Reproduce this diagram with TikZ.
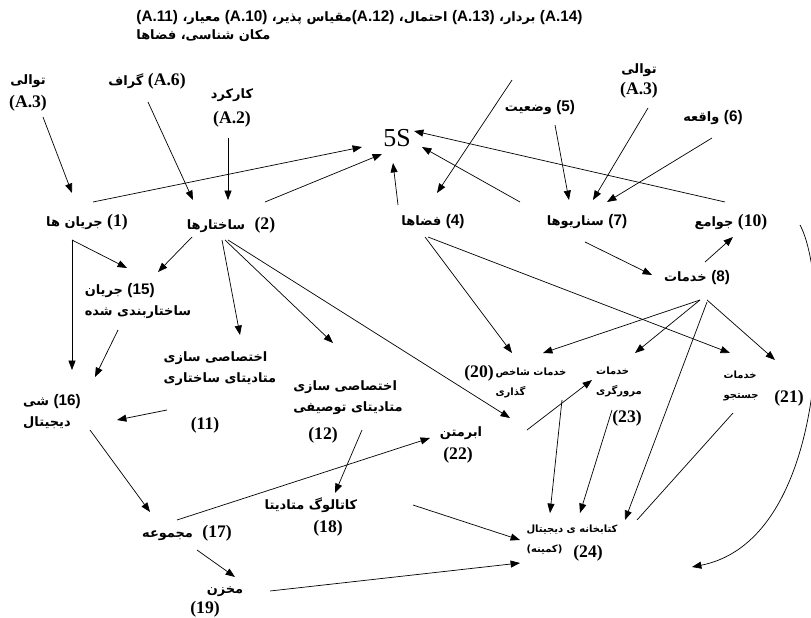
\documentclass[tikz,border=0pt]{standalone}
\usepackage{fontspec}
\usetikzlibrary{arrows.meta, calc}
\TeXXeTstate=1
\newfontfamily\fa[Script=Arabic]{DejaVu Sans}
\newfontfamily\sernum{Liberation Serif}
\newfontfamily\sanum{Liberation Sans}
\newcommand{\pr}[1]{{\beginR #1\endR}}
\newcommand{\sn}[1]{{\sernum\bfseries\fontsize{15}{17}\selectfont #1}}
\newcommand{\an}[1]{{\sanum\bfseries\fontsize{13}{15}\selectfont #1}}

\tikzset{
  lbl/.style={font=\fa\bfseries\fontsize{11}{18}\selectfont, inner sep=1pt, align=left},
  sml/.style={font=\fa\bfseries\fontsize{8.5}{17}\selectfont, inner sep=1pt, align=left},
  num/.style={font=\sernum\bfseries\fontsize{15}{17}\selectfont, inner sep=1pt},
  arr/.style={-{Triangle[length=8pt,width=6pt]}, line width=0.6pt},
}

\begin{document}
\begin{tikzpicture}[x=0.85pt, y=-0.85pt]
  \useasboundingbox (0,0) rectangle (811,618);

  % top line
  \node[lbl, anchor=north west, font=\fa\bfseries\fontsize{11}{15}\selectfont] (top) at (135,9)
    {\an{(A.11)} \pr{معیار،} \an{(A.10)} \pr{مقیاس پذیر،}\an{(A.12)} \pr{احتمال،} \an{(A.13)} \pr{بردار،} \an{(A.14)}\\
     \pr{مکان شناسی، فضاها}};
  \coordinate (topend) at (512,80);

  \node[lbl, align=center] (a3l) at (28,93) {\pr{توالی}\\[2pt]\sn{(A.3)}};
  \node[lbl] (a6) at (147,81) {\pr{گراف} \sn{(A.6)}};
  \node[lbl, align=center] (a2) at (232,108) {\pr{کارکرد}\\[4pt]\sn{(A.2)}};
  \node[font=\sernum\fontsize{22}{24}\selectfont, inner sep=1pt] (s5) at (397,138) {5S};
  \node[lbl] (n5) at (540,108) {\pr{وضعیت} \an{(5)}};
  \node[lbl, align=center] (a3r) at (639,81) {\pr{توالی}\\ \sn{(A.3)}};
  \node[lbl] (n6) at (713,118) {\pr{واقعه} \an{(6)}};

  \node[lbl] (n1) at (87,222) {\pr{جریان ها} \sn{(1)}};
  \node[lbl] (n2) at (231,225) {\pr{ساختارها}\hspace{8pt}\sn{(2)}};
  \node[lbl] (n4) at (433,222) {\pr{فضاها} {\sanum\fontsize{13}{15}\selectfont (4)}};
  \node[lbl] (n7) at (587,222) {\pr{سناریوها} \an{(7)}};
  \node[lbl] (n10) at (731,222) {\pr{جوامع} \sn{(10)}};
  \node[lbl] (n8) at (697,278) {\pr{خدمات} \an{(8)}};

  \node[lbl] (n15) at (138,301) {\pr{جریان} \an{(15)}\\ \pr{ساختاربندی شده}};
  \node[lbl] (n16) at (52,412) {\pr{شی} \an{(16)}\\ \pr{دیجیتال}};
  \node[lbl] (n11) at (220,369) {\pr{اختصاصی سازی}\\ \pr{متادیتای ساختاری}};
  \node[num] (n11n) at (205,425) {(11)};
  \node[lbl] (n12) at (348,398) {\pr{اختصاصی سازی}\\ \pr{متادیتای توصیفی}};
  \node[num] (n12n) at (323,435) {(12)};
  \node[lbl] (n22) at (461,433) {\pr{ابرمتن}};
  \node[num] (n22n) at (458,455) {(22)};
  \node[sml] (n20) at (531,383) {\pr{خدمات شاخص}\\ \pr{گذاری}};
  \node[num] (n20n) at (479,373) {(20)};
  \node[sml] (n23) at (619,382) {\pr{خدمات}\\ \pr{مرورگری}};
  \node[num] (n23n) at (627,418) {(23)};
  \node[sml] (n21) at (741,386) {\pr{خدمات}\\ \pr{جستجو}};
  \node[num] (n21n) at (789,398) {(21)};
  \node[sml] (n24) at (572,540) {\pr{کتابخانه ی دیجیتال}\\ (کمینه)};
  \node[num] (n24n) at (588,553) {(24)};
  \node[lbl] (n17) at (187,533) {\pr{مجموعه}\hspace{8pt}\sn{(17)}};
  \node[lbl] (n18) at (311,505) {\pr{کاتالوگ متادیتا}};
  \node[num] (n18n) at (328,528) {(18)};
  \node[lbl] (n19) at (225,592) {\pr{مخزن}};
  \node[num] (n19n) at (205,609) {(19)};

  % into 5S and the upper row
  \draw[arr] ($(a3l)+(15,24)$) -- ($(n1)+(-15,-29)$);
  \draw[arr] ($(a6)+(1,21)$) -- ($(n2)+(-38,-25)$);
  \draw[arr] ($(a2)+(-4,30)$) -- ($(n2)+(-3,-25)$);
  \draw[arr] ($(n1)+(6,-20)$) -- ($(s5)+(-35,9)$);
  \draw[arr] ($(n2)+(34,-23)$) -- ($(s5)+(-15,16)$);
  \draw[arr] ($(n4)+(-35,-17)$) -- ($(s5)+(-4,25)$);
  \draw[arr] ($(n7)+(-67,-20)$) -- ($(s5)+(25,9)$);
  \draw[arr] ($(n10)+(-6,-20)$) -- ($(s5)+(17,-7)$);
  \draw[arr] (topend) -- ($(n4)+(4,-29)$);
  \draw[arr] ($(n5)+(15,17)$) -- ($(n7)+(-18,-22)$);
  \draw[arr] ($(a3r)+(9,27)$) -- ($(n7)+(6,-22)$);
  \draw[arr] ($(n6)+(-1,20)$) -- ($(n7)+(20,-20)$);
  \draw[arr] ($(n7)+(-2,20)$) -- ($(n8)+(-45,-3)$);
  \draw[arr] ($(n8)+(8,-16)$) -- ($(n10)+(2,15)$);
  \draw[arr] ($(n10)+(69,3)$) .. controls (830,280) and (830,540) .. ($(n24)+(120,27)$);

  % left part
  \draw[arr] ($(n1)+(-15,18)$) -- ($(n15)+(-11,-33)$);
  \draw[arr] ($(n1)+(-15,18)$) -- ($(n16)+(20,-42)$);
  \draw[arr] ($(n2)+(-39,12)$) -- ($(n15)+(20,-29)$);
  \draw[arr] ($(n15)+(-20,29)$) -- ($(n16)+(43,-35)$);
  \draw[arr] ($(n11)+(-53,41)$) -- ($(n16)+(65,8)$);
  \draw[arr] ($(n2)+(-9,15)$) -- ($(n11)+(20,-34)$);
  \draw[arr] ($(n2)+(-6,15)$) -- ($(n12)+(-15,-55)$);
  \draw[arr] ($(n2)+(-3,15)$) -- ($(n22)+(49,-15)$);
  \draw[arr] ($(n16)+(38,18)$) -- ($(n17)+(-37,-21)$);
  \draw[arr] ($(n17)+(10,17)$) -- ($(n19)+(10,-15)$);
  \draw[arr] ($(n17)+(-10,-13)$) -- ($(n22)+(-31,5)$);
  \draw[arr] ($(n12)+(14,32)$) -- ($(n18)+(24,-12)$);

  % services
  \draw[arr] ($(n4)+(-8,15)$) -- ($(n20)+(-19,-30)$);
  \draw[arr] ($(n4)+(-5,15)$) -- ($(n21)+(-11,-33)$);
  \draw[arr] ($(n8)+(3,22)$) -- ($(n20)+(12,-30)$);
  \draw[arr] ($(n8)+(3,22)$) -- ($(n23)+(16,-29)$);
  \draw[arr] ($(n8)+(10,22)$) -- ($(n21)+(34,-26)$);
  \draw[arr] ($(n22)+(66,-3)$) -- ($(n23)+(-27,-2)$);

  % into the digital library
  \draw[arr] ($(n8)+(10,24)$) -- ($(n24)+(53,-20)$);
  \draw[line width=0.6pt] ($(n21)+(-8,27)$) -- ($(n24)+(65,-20)$);
  \draw[arr] ($(n23)+(-7,28)$) -- ($(n24)+(8,-27)$);
  \draw[arr] ($(n20)+(31,17)$) -- ($(n24)+(-22,-27)$);
  \draw[arr] ($(n18)+(102,0)$) -- ($(n24)+(-52,0)$);
  \draw[arr] ($(n19)+(45,-1)$) -- ($(n24)+(-52,23)$);
\end{tikzpicture}
\end{document}
